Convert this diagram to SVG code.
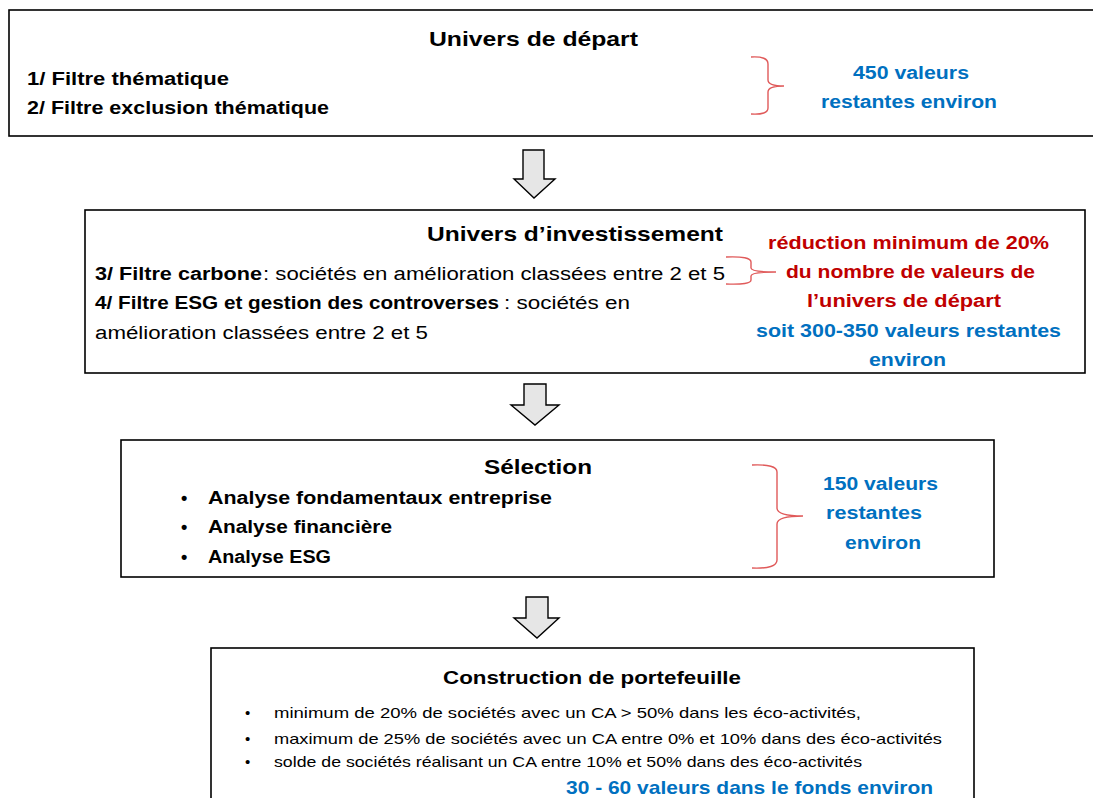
<svg xmlns="http://www.w3.org/2000/svg" width="1093" height="798" viewBox="0 0 1093 798">
<style>
.box{fill:#fff;stroke:#000;stroke-width:1.6}
.arr{fill:#e6e6e6;stroke:#000;stroke-width:1.4;stroke-linejoin:miter}
.br{fill:none;stroke:#e05a5a;stroke-width:1.4}
text{font-family:"Liberation Sans",Arial,sans-serif;fill:#000}
.t{font-weight:bold;font-size:21px}
.b{font-weight:bold;font-size:18px}
.r{font-size:18px}
.s{font-size:15px}
.blue{fill:#0070c0;font-weight:bold;font-size:18px}
.red{fill:#c00000;font-weight:bold;font-size:18px}
</style>
<rect width="1093" height="798" fill="#fff"/>
<g id="connectors">
<path class="arr" d="M523,150 H544 V179 H555 L534,198 L514,179 H523 Z"/>
<path class="arr" d="M524,384 H546 V405 H559 L535,425 L511,405 H524 Z"/>
<path class="arr" d="M526,597 H548 V618 H559 L537,638 L514,618 H526 Z"/>
</g>
<g id="univers-depart">
<rect class="box" x="9" y="10" width="1100" height="126"/>
<text class="t" x="429" y="46" textLength="209" lengthAdjust="spacingAndGlyphs">Univers de départ</text>
<text class="b" x="27" y="85" textLength="202" lengthAdjust="spacingAndGlyphs">1/ Filtre thématique</text>
<text class="b" x="27" y="114" textLength="302" lengthAdjust="spacingAndGlyphs">2/ Filtre exclusion thématique</text>
<path class="br" d="M751,57 Q768,56 768,64 V80 Q768,86 784,86 Q768,86 768,92 V108 Q768,115 751,114"/>
<text class="blue" x="853" y="79" textLength="116" lengthAdjust="spacingAndGlyphs">450 valeurs</text>
<text class="blue" x="821" y="108" textLength="176" lengthAdjust="spacingAndGlyphs">restantes environ</text>
</g>
<g id="univers-investissement">
<rect class="box" x="85" y="210" width="1000" height="163"/>
<text class="t" x="427" y="241" textLength="296" lengthAdjust="spacingAndGlyphs">Univers d’investissement</text>
<text class="b" x="95" y="280" textLength="167" lengthAdjust="spacingAndGlyphs">3/ Filtre carbone</text>
<text class="r" x="263" y="280" textLength="462" lengthAdjust="spacingAndGlyphs">: sociétés en amélioration classées entre 2 et 5</text>
<text class="b" x="95" y="309" textLength="404" lengthAdjust="spacingAndGlyphs">4/ Filtre ESG et gestion des controverses</text>
<text class="r" x="504" y="309" textLength="126" lengthAdjust="spacingAndGlyphs">: sociétés en</text>
<text class="r" x="95" y="339" textLength="333" lengthAdjust="spacingAndGlyphs">amélioration classées entre 2 et 5</text>
<path class="br" d="M726,257 Q751,256 751,262 V268 Q751,272 776,272 Q751,272 751,276 V280 Q751,285 726,284"/>
<text class="red" x="768" y="249" textLength="281" lengthAdjust="spacingAndGlyphs">réduction minimum de 20%</text>
<text class="red" x="786" y="278" textLength="249" lengthAdjust="spacingAndGlyphs">du nombre de valeurs de</text>
<text class="red" x="807" y="307" textLength="194" lengthAdjust="spacingAndGlyphs">l’univers de départ</text>
<text class="blue" x="756" y="337" textLength="305" lengthAdjust="spacingAndGlyphs">soit 300-350 valeurs restantes</text>
<text class="blue" x="869" y="366" textLength="77" lengthAdjust="spacingAndGlyphs">environ</text>
</g>
<g id="selection">
<rect class="box" x="121" y="440" width="873" height="137"/>
<text class="t" x="484" y="474" textLength="108" lengthAdjust="spacingAndGlyphs">Sélection</text>
<text class="b" x="181" y="504">•</text>
<text class="b" x="208" y="504" textLength="344" lengthAdjust="spacingAndGlyphs">Analyse fondamentaux entreprise</text>
<text class="b" x="181" y="533">•</text>
<text class="b" x="208" y="533" textLength="184" lengthAdjust="spacingAndGlyphs">Analyse financière</text>
<text class="b" x="181" y="563">•</text>
<text class="b" x="208" y="563" textLength="123" lengthAdjust="spacingAndGlyphs">Analyse ESG</text>
<path class="br" d="M752,465 Q777,464 777,472 V508 Q777,516 803,516 Q777,516 777,524 V560 Q777,569 752,568"/>
<text class="blue" x="823" y="490" textLength="115" lengthAdjust="spacingAndGlyphs">150 valeurs</text>
<text class="blue" x="826" y="519" textLength="96" lengthAdjust="spacingAndGlyphs">restantes</text>
<text class="blue" x="845" y="549" textLength="76" lengthAdjust="spacingAndGlyphs">environ</text>
</g>
<g id="construction">
<rect class="box" x="211" y="648" width="763" height="160"/>
<text class="b" x="443" y="684" textLength="298" lengthAdjust="spacingAndGlyphs">Construction de portefeuille</text>
<text class="s" x="245" y="718">•</text>
<text class="s" x="274" y="718" textLength="587" lengthAdjust="spacingAndGlyphs">minimum de 20%  de sociétés avec un CA &gt; 50% dans les éco-activités,</text>
<text class="s" x="245" y="744">•</text>
<text class="s" x="274" y="744" textLength="668" lengthAdjust="spacingAndGlyphs">maximum de 25% de sociétés avec un CA  entre 0% et 10% dans des éco-activités</text>
<text class="s" x="245" y="767">•</text>
<text class="s" x="274" y="767" textLength="588" lengthAdjust="spacingAndGlyphs">solde de sociétés réalisant un CA entre 10% et 50% dans des éco-activités</text>
<text class="blue" x="566" y="794" style="font-size:19px" textLength="367" lengthAdjust="spacingAndGlyphs">30 - 60 valeurs dans le fonds environ</text>
</g>
</svg>
